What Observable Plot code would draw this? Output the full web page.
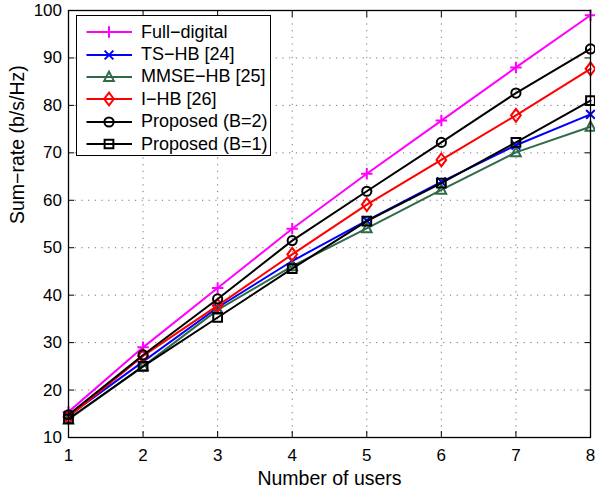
<!DOCTYPE html>
<html>
<head>
<meta charset="utf-8">
<script src="https://cdn.jsdelivr.net/npm/d3@7"></script>
<script src="https://cdn.jsdelivr.net/npm/@observablehq/plot@0.6"></script>
<style>
  html, body { margin: 0; padding: 0; background: #fff; }
  #wrap { position: relative; width: 595px; height: 492px; font-family: "Liberation Sans", Arial, sans-serif; }
  #legend { position: absolute; left: 76px; top: 15px; width: 195px; height: 141px; box-sizing: border-box;
            border: 1px solid #000; background: #fff; padding-top: 5px; }
  .row { display: flex; align-items: center; height: 22.4px; }
  .row svg { flex: none; }
  .row span { font-size: 18px; margin-left: 4px; white-space: nowrap; color: #000; }
</style>
</head>
<body>
<div id="wrap"></div>
<script>
// ---- data ----
const users = [1, 2, 3, 4, 5, 6, 7, 8];
const seriesNames = ["Full\u2212digital", "TS\u2212HB [24]", "MMSE\u2212HB [25]", "I\u2212HB [26]", "Proposed (B=2)", "Proposed (B=1)"];
const fullDigital = [15.4, 29.0, 41.5, 54.0, 65.6, 76.8, 88.0, 99.0];
const tsHB        = [14.6, 26.0, 37.4, 47.2, 55.7, 63.9, 71.6, 78.1];
const mmseHB      = [13.8, 25.0, 36.9, 46.1, 54.1, 62.2, 70.1, 75.5];
const iHB         = [14.3, 27.2, 37.8, 48.6, 59.1, 68.5, 77.9, 87.7];
const propB2      = [14.8, 27.4, 39.2, 51.5, 61.9, 72.2, 82.6, 91.9];
const propB1      = [13.9, 25.0, 35.3, 45.6, 55.6, 63.6, 72.2, 81.0];
const xTicks = [1, 2, 3, 4, 5, 6, 7, 8];
const yTicks = [10, 20, 30, 40, 50, 60, 70, 80, 90, 100];
const xLabel = "Number of users";
const yLabel = "Sum\u2212rate (b/s/Hz)";

// ---- styles ----
const sym = (fn) => ({ draw(ctx, size) { const r = Math.sqrt(size / Math.PI); fn(ctx, r); } });
const symPlus = sym((c, r) => { const k = r * 1.25; c.moveTo(-k, 0); c.lineTo(k, 0); c.moveTo(0, -k); c.lineTo(0, k); });
const symTimes = sym((c, r) => { const k = r * 0.95; c.moveTo(-k, -k); c.lineTo(k, k); c.moveTo(-k, k); c.lineTo(k, -k); });
const symTri = sym((c, r) => { c.moveTo(0, -r * 1.15); c.lineTo(r * 1.05, r * 0.85); c.lineTo(-r * 1.05, r * 0.85); c.closePath(); });
const symDiamond = sym((c, r) => { c.moveTo(0, -r * 1.4); c.lineTo(r * 1.05, 0); c.lineTo(0, r * 1.4); c.lineTo(-r * 1.05, 0); c.closePath(); });
const symCircle = sym((c, r) => { c.moveTo(r, 0); c.arc(0, 0, r, 0, 2 * Math.PI); });
const symSquare = sym((c, r) => { const s = r * 0.95; c.rect(-s, -s, 2 * s, 2 * s); });

const seriesValues = [fullDigital, tsHB, mmseHB, iHB, propB2, propB1];
const colors = ["#ff00ff", "#0000ff", "#2f6b4a", "#ff0000", "#000000", "#000000"];
const symbols = [symPlus, symTimes, symTri, symDiamond, symCircle, symSquare];
const R = 4.6;

const marks = [
  Plot.gridX(xTicks, { stroke: "#000", strokeOpacity: 0.55, strokeDasharray: "1.2,5.5" }),
  Plot.gridY(yTicks, { stroke: "#000", strokeOpacity: 0.55, strokeDasharray: "1.2,5.5" }),
];
seriesNames.forEach((name, i) => {
  const rows = users.map((u, j) => ({ users: u, rate: seriesValues[i][j], series: name }));
  marks.push(Plot.line(rows, { x: "users", y: "rate", stroke: colors[i], strokeWidth: 2 }));
  marks.push(Plot.dot(rows, { x: "users", y: "rate", stroke: colors[i], strokeWidth: 2, fill: "none", r: R, symbol: symbols[i] }));
});
marks.push(
  Plot.axisX(xTicks, { anchor: "bottom", tickSize: -6, tickPadding: 17, fontSize: 17, stroke: "#000" }),
  Plot.axisX(xTicks, { anchor: "top", tickSize: -6, tickFormat: () => "", stroke: "#000" }),
  Plot.axisY(yTicks, { anchor: "left", tickSize: -6, tickPadding: 12.5, fontSize: 17, stroke: "#000" }),
  Plot.axisY(yTicks, { anchor: "right", tickSize: -6, tickFormat: () => "", stroke: "#000" }),
  Plot.frame({ stroke: "#000", strokeWidth: 1.3 }),
  Plot.text([xLabel], { frameAnchor: "bottom", lineAnchor: "top", dy: 34, fontSize: 19.5, fill: "#000" }),
  Plot.text([yLabel], { frameAnchor: "left", lineAnchor: "bottom", rotate: -90, dx: -45, fontSize: 19.5, fill: "#000" })
);

const chart = Plot.plot({
  width: 595,
  height: 492,
  marginLeft: 68,
  marginRight: 5,
  marginTop: 10,
  marginBottom: 55,
  style: { fontFamily: "'Liberation Sans', Arial, sans-serif", color: "#000", background: "#fff" },
  x: { domain: [1, 8], label: null },
  y: { domain: [10, 100], label: null },
  marks
});
const wrap = document.getElementById("wrap");
wrap.appendChild(chart);

// ---- legend ----
const legend = document.createElement("div");
legend.id = "legend";
seriesNames.forEach((name, i) => {
  const row = document.createElement("div");
  row.className = "row";
  const svg = d3.create("svg").attr("width", 60).attr("height", 22);
  svg.append("line").attr("x1", 9.5).attr("x2", 55).attr("y1", 11).attr("y2", 11)
    .attr("stroke", colors[i]).attr("stroke-width", 2);
  svg.append("path").attr("transform", "translate(32,11)")
    .attr("d", d3.symbol(symbols[i], Math.PI * R * R)())
    .attr("fill", "none").attr("stroke", colors[i]).attr("stroke-width", 2);
  row.appendChild(svg.node());
  const span = document.createElement("span");
  span.textContent = name;
  row.appendChild(span);
  legend.appendChild(row);
});
wrap.appendChild(legend);
</script>
</body>
</html>
